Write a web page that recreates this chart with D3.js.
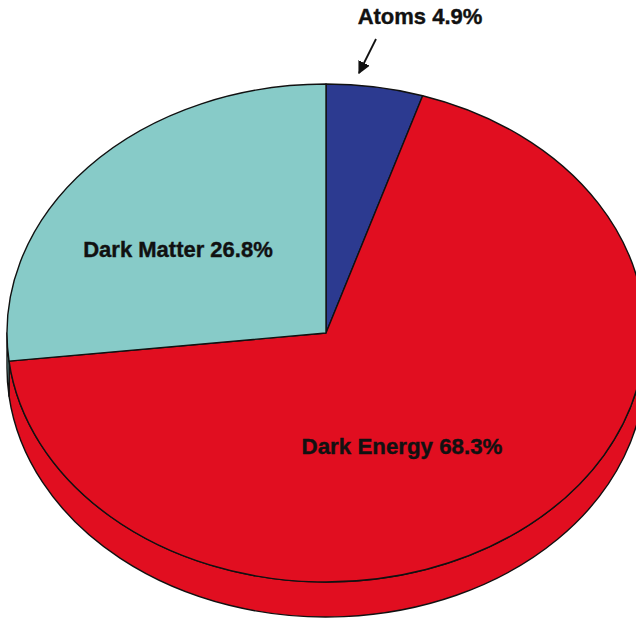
<!DOCTYPE html>
<html>
<head>
<meta charset="utf-8">
<script src="https://cdn.jsdelivr.net/npm/d3@7"></script>
<style>
  html, body { margin: 0; padding: 0; background: #fff; }
  svg { display: block; }
  text { font-family: "Liberation Sans", Arial, Helvetica, sans-serif; font-weight: bold; fill: #111; stroke: #111; stroke-width: 0.4px; }
</style>
</head>
<body>
<svg id="chart" width="636" height="621"></svg>
<script>
// Composition of the universe
const categories = ["Atoms", "Dark Energy", "Dark Matter"];
const values = [4.9, 68.3, 26.8];
const colors = ["#2c3a90", "#e10e20", "#87cbc8"];
const labels = ["Atoms 4.9%", "Dark Energy 68.3%", "Dark Matter 26.8%"];

const svg = d3.select("#chart");

// tilted disc geometry
const cx = 326, cy = 333, rx = 319, ry = 249, depth = 35;

const pie = d3.pie().sort(null).value(d => d).startAngle(0).endAngle(2 * Math.PI);
const slices = pie(values).map((s, i) => ({ ...s, name: categories[i], color: colors[i], label: labels[i] }));

const pt = (a, dy = 0) => [cx + rx * Math.sin(a), cy - ry * Math.cos(a) + dy];

// visible rim: lower half of the disc, angles from PI/2 to 3PI/2
const rimLo = Math.PI / 2, rimHi = 3 * Math.PI / 2;
const rimLayer = svg.append("g");
slices.forEach(s => {
  const a0 = Math.max(s.startAngle, rimLo), a1 = Math.min(s.endAngle, rimHi);
  if (a1 <= a0) return;
  const p0 = pt(a0), p1 = pt(a1), q1 = pt(a1, depth), q0 = pt(a0, depth);
  const large = (a1 - a0) > Math.PI ? 1 : 0;
  const d = `M${p0}A${rx},${ry} 0 ${large} 1 ${p1}L${q1}A${rx},${ry} 0 ${large} 0 ${q0}Z`;
  rimLayer.append("path")
    .attr("d", d)
    .attr("fill", s.color)
    .attr("stroke", "#111")
    .attr("stroke-width", 1.4)
    .attr("stroke-linejoin", "round");
});

// top face: circular arcs squashed into an ellipse
const arc = d3.arc().innerRadius(0).outerRadius(ry);
const faceLayer = svg.append("g").attr("transform", `translate(${cx},${cy}) scale(${rx / ry},1)`);
faceLayer.selectAll("path")
  .data(slices)
  .join("path")
  .attr("d", arc)
  .attr("fill", d => d.color)
  .attr("stroke", "#111")
  .attr("stroke-width", 1.4)
  .attr("stroke-linejoin", "round")
  .attr("vector-effect", "non-scaling-stroke");

// slice labels
const labelPos = {
  "Dark Matter": { x: 178, y: 257, size: 22 },
  "Dark Energy": { x: 402, y: 454, size: 22.3 },
  "Atoms": { x: 420, y: 24, size: 22 }
};
slices.forEach(s => {
  const p = labelPos[s.name];
  svg.append("text")
    .attr("x", p.x)
    .attr("y", p.y)
    .attr("text-anchor", "middle")
    .attr("font-size", p.size)
    .text(s.label);
});

// pointer for the thin slice
const defs = svg.append("defs");
defs.append("marker")
  .attr("id", "head")
  .attr("viewBox", "0 0 10 10")
  .attr("refX", 9).attr("refY", 5)
  .attr("markerWidth", 7).attr("markerHeight", 7)
  .attr("markerUnits", "strokeWidth")
  .attr("orient", "auto")
  .append("path")
  .attr("d", "M0,0L10,5L0,10Z")
  .attr("fill", "#111");
svg.append("line")
  .attr("x1", 376).attr("y1", 39)
  .attr("x2", 359).attr("y2", 73)
  .attr("stroke", "#111")
  .attr("stroke-width", 1.8)
  .attr("marker-end", "url(#head)");
</script>
</body>
</html>
